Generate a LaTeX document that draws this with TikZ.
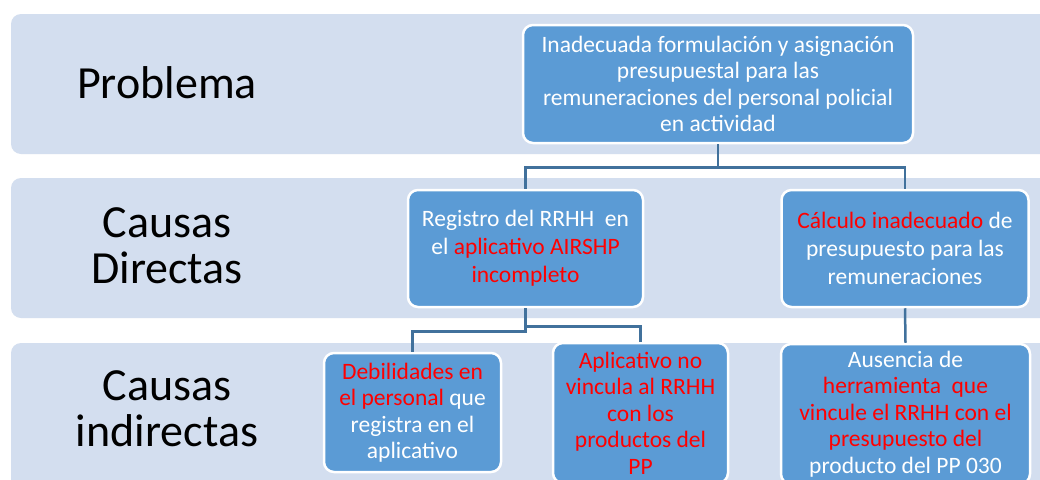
\documentclass[tikz,border=0pt]{standalone}
\usepackage{fontspec}
\setmainfont{Carlito}
\usetikzlibrary{calc}
\usetikzlibrary{positioning}
\definecolor{bandblue}{HTML}{D3DEEF}
\definecolor{boxblue}{HTML}{5B9BD5}
\definecolor{lineblue}{HTML}{41719C}
\tikzstyle{band} = [fill=bandblue, rounded corners=10pt]
\tikzstyle{rowlabel} = [text=black, align=center, font=\fontsize{46}{46}\selectfont]
\tikzstyle{causenode} = [draw=white, line width=2.5pt, fill=boxblue, rounded corners=10pt, text=white, align=center, inner sep=0pt, font=\fontsize{23.5}{26.5}\selectfont]
\tikzstyle{directnode} = [causenode, font=\fontsize{23.5}{28}\selectfont]
\tikzstyle{link} = [draw=lineblue, line width=2.5pt]
\newcommand{\rd}[1]{\textcolor{red}{#1}}

\begin{document}
\begin{tikzpicture}[x=1pt, y=-1pt]
\useasboundingbox (0,0) rectangle (1040,479);
\clip (0,0) rectangle (1040,479);
\fill[white] (0,0) rectangle (1040,479);

% bands
\fill[band] (11,14) rectangle (1070,154);
\fill[band] (11,178) rectangle (1070,318);
\fill[band] (11,343) rectangle (1070,520);

\node[rowlabel] (lprob) at (167,83) {Problema};
\node[rowlabel] (ldir) at (167,246) {Causas\\Directas};
\node[rowlabel] (lind) at (167,409) {Causas\\indirectas};

% problem
\node[causenode, minimum width=390, minimum height=118] (prob) at (718,84)
  {Inadecuada formulación y asignación\\presupuestal para las\\remuneraciones del personal policial\\en actividad};

% direct causes
\node[directnode, minimum width=235, minimum height=117] (reg) at (525.5,248.5)
  {Registro del RRHH\ \ en\\el \rd{aplicativo AIRSHP}\\\rd{incompleto}};
\node[directnode, minimum width=247, minimum height=117] (calc) at (905,248.5)
  {\rd{Cálculo inadecuado} de\\presupuesto para las\\remuneraciones};

% indirect causes
\node[causenode, minimum width=177, minimum height=119] (deb) at (412.5,412.5)
  {\rd{Debilidades en}\\\rd{el personal} que\\registra en el\\aplicativo};
\node[causenode, minimum width=175, minimum height=140] (apl) at (640.5,413)
  {\rd{Aplicativo no}\\\rd{vincula al RRHH}\\\rd{con los}\\\rd{productos del}\\\rd{PP}};
\node[causenode, minimum width=249, minimum height=140] (aus) at (905.5,414)
  {Ausencia de\\\rd{herramienta\ \ que}\\\rd{vincule el RRHH con el}\\\rd{presupuesto del}\\producto del PP 030};

\draw[link] (prob.south) -- ++(0,23) -| (reg.north);
\draw[link] (prob.south) -- ++(0,23) -| (calc.north);
\draw[link] (reg.south) -- ++(0,18) -| (apl.north);
\draw[link] (reg.south) -- ++(0,23) -| (deb.north);
\draw[link] (calc.south) -- (aus.north);
\end{tikzpicture}
\end{document}
